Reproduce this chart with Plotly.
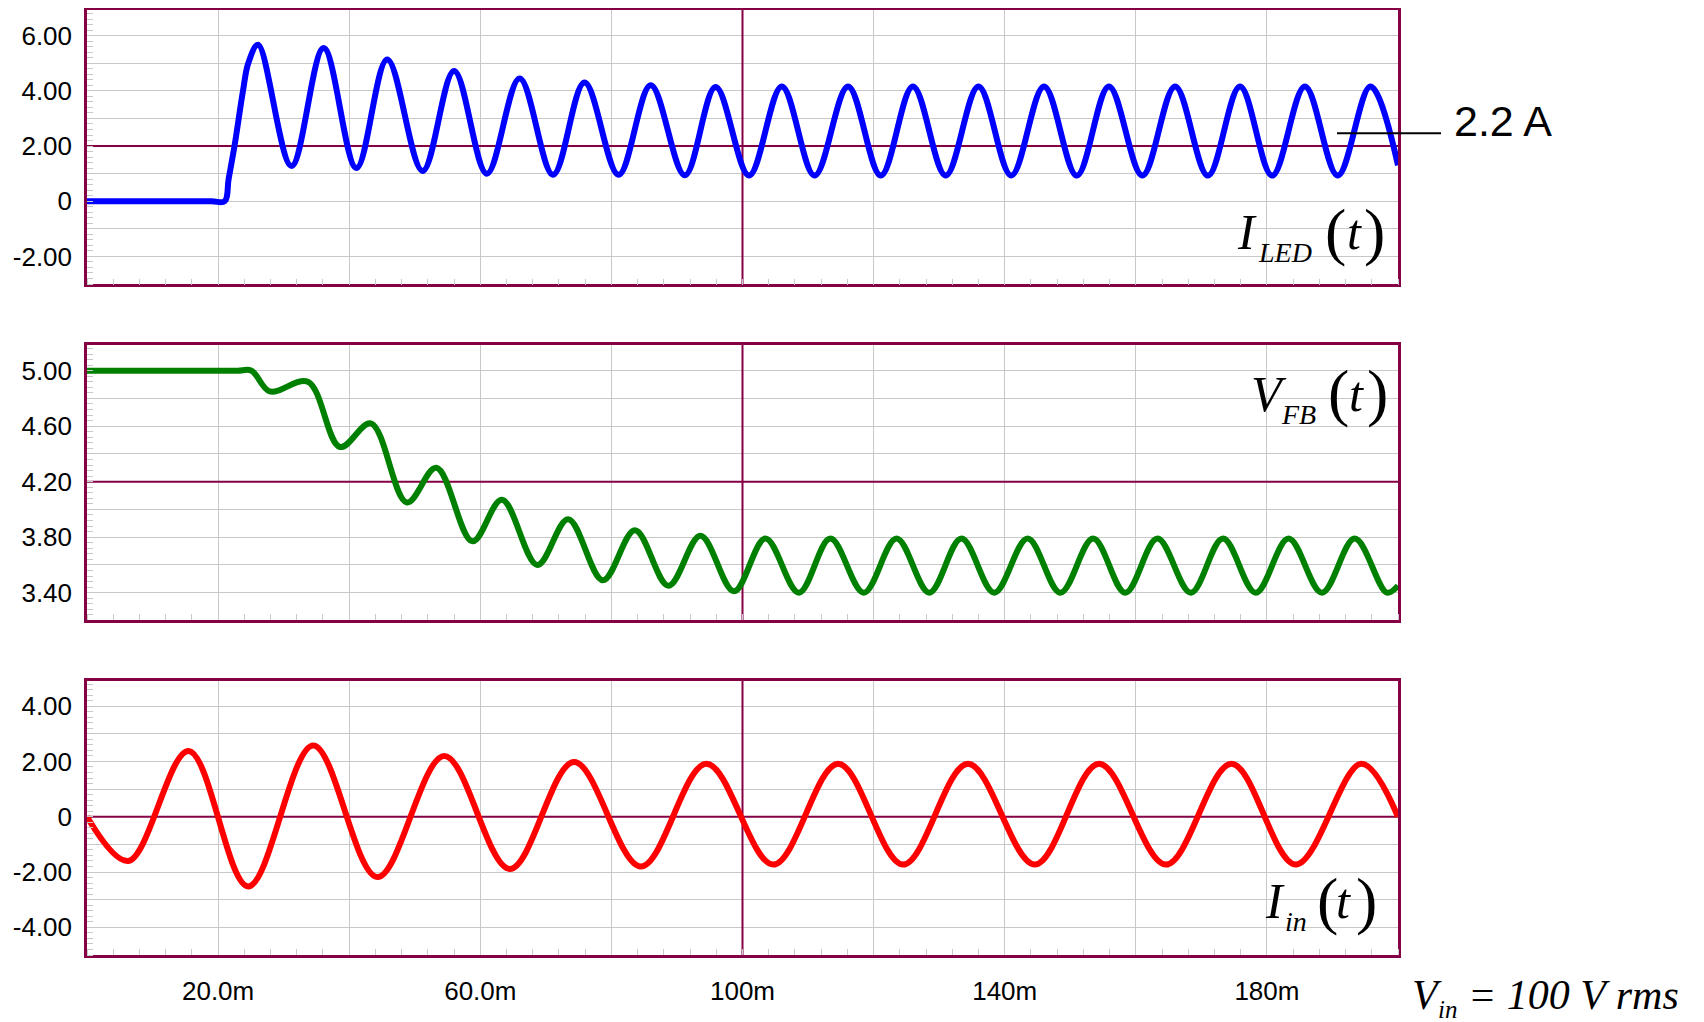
import plotly.graph_objects as go

# ---------------- data (time in ms) ----------------
led_t = [0, 10.0, 19.0, 21.0, 21.6, 22.5, 23.8, 24.6, 26.1, 31.2, 36.1, 41.1, 45.8, 51.2, 56.0,
         61.0, 66.0, 71.1, 75.9, 81.1, 86.0, 91.2, 95.9, 101.0, 106.0, 111.0, 116.1,
         121.1, 126.0, 131.0, 136.0, 141.0, 146.0, 151.0, 155.9, 161.0, 166.0, 171.0,
         175.9, 180.8, 185.8, 190.8, 195.8, 200.0]
led_v = [0, 0, 0, 0, 0.8, 2.0, 4.0, 5.0, 5.67, 1.28, 5.55, 1.20, 5.14, 1.10, 4.72,
         1.00, 4.45, 0.96, 4.30, 0.96, 4.20, 0.94, 4.14, 0.93, 4.16, 0.93, 4.16,
         0.93, 4.16, 0.93, 4.16, 0.93, 4.16, 0.93, 4.16, 0.93, 4.16, 0.93,
         4.16, 0.93, 4.16, 0.93, 4.16, 1.30]

fb_t = [0, 10.0, 20.0, 23.0, 25.1, 27.9, 33.7, 38.6, 43.3, 48.8, 53.3, 58.8, 63.3, 68.7, 73.4, 78.7,
        83.6, 88.7, 93.6, 98.7, 103.5, 108.6, 113.4, 118.5, 123.5, 128.5, 133.4,
        138.4, 143.5, 148.5, 153.5, 158.4, 163.3, 168.4, 173.3, 178.3, 183.3, 188.4,
        193.4, 198.3, 200.0]
fb_v = [5.00, 5.00, 5.00, 5.00, 5.00, 4.85, 4.92, 4.45, 4.62, 4.05, 4.30, 3.77, 4.07, 3.60, 3.93, 3.49,
        3.85, 3.45, 3.81, 3.41, 3.79, 3.40, 3.79, 3.40, 3.79, 3.40, 3.79,
        3.40, 3.79, 3.40, 3.79, 3.40, 3.79, 3.40, 3.79, 3.40, 3.79, 3.40,
        3.79, 3.40, 3.45]

in_t = [0, 6.3, 15.5, 24.6, 34.5, 44.3, 54.5, 64.5, 74.3, 84.5, 94.5, 104.7, 114.6,
        124.5, 134.4, 144.6, 154.4, 164.6, 174.6, 184.4, 194.4, 200.0]
in_v = [0, -1.60, 2.38, -2.52, 2.58, -2.18, 2.20, -1.89, 1.98, -1.80, 1.92, -1.73, 1.92,
        -1.73, 1.92, -1.73, 1.92, -1.73, 1.92, -1.73, 1.92, 0.0]

# ---------------- ticks ----------------
x_grid = [20, 40, 60, 80, 100, 120, 140, 160, 180]
x_text = ["20.0m", "", "60.0m", "", "100m", "", "140m", "", "180m"]

y1_grid = [-3, -2, -1, 0, 1, 2, 3, 4, 5, 6, 7]
y1_text = ["", "-2.00", "", "0", "", "2.00", "", "4.00", "", "6.00", ""]
y2_grid = [3.2, 3.4, 3.6, 3.8, 4.0, 4.2, 4.4, 4.6, 4.8, 5.0, 5.2]
y2_text = ["", "3.40", "", "3.80", "", "4.20", "", "4.60", "", "5.00", ""]
y3_grid = [-5, -4, -3, -2, -1, 0, 1, 2, 3, 4, 5]
y3_text = ["", "-4.00", "", "-2.00", "", "0", "", "2.00", "", "4.00", ""]

X_RANGE = [0, 200]
Y1_RANGE = [-3.01, 6.93]
Y2_RANGE = [3.203, 5.185]
Y3_RANGE = [-5.0, 4.92]
CENTER_X = 100
CENTER_Y = [2.0, 4.2, 0.0]

MAROON = "#850045"
GRID = "#c8c8c8"
SANS = "Liberation Sans, Arial, sans-serif"
SERIF = "Liberation Serif, Times New Roman, serif"

W, H = 1704, 1022
L, R, T, B = 79, 314, 2, 75
PW, PH = W - L - R, H - T - B
OFF = 8  # page offset of the figure (body margin)


def px(X):
    return (X - OFF - L) / PW


def py(Y):
    return (H - B - (Y - OFF)) / PH


fig = go.Figure()
fig.add_trace(go.Scatter(x=led_t, y=led_v, xaxis="x", yaxis="y", mode="lines",
                         line=dict(color="#0000ff", width=6, shape="spline", smoothing=1.0)))
fig.add_trace(go.Scatter(x=fb_t, y=fb_v, xaxis="x2", yaxis="y2", mode="lines",
                         line=dict(color="#008000", width=6, shape="spline", smoothing=1.0)))
fig.add_trace(go.Scatter(x=in_t, y=in_v, xaxis="x3", yaxis="y3", mode="lines",
                         line=dict(color="#ff0000", width=6, shape="spline", smoothing=1.0)))


def xaxis(anchor, labels):
    return dict(domain=[0, 1], anchor=anchor, range=X_RANGE, tickmode="array",
                tickvals=x_grid, ticktext=x_text if labels else [""] * len(x_grid),
                showticklabels=labels, showgrid=True, gridcolor=GRID, gridwidth=1.2,
                zeroline=False, showline=True, linecolor=MAROON, linewidth=2.5, mirror=True,
                ticks="", ticklabelstandoff=11,
                minor=dict(tick0=0, dtick=4, ticks="inside", ticklen=6, tickwidth=1,
                           tickcolor=GRID, showgrid=False),
                tickfont=dict(family=SANS, size=26, color="black"))


def yaxis(domain, anchor, rng, vals, text, mdt):
    return dict(domain=domain, anchor=anchor, range=rng, tickmode="array",
                tickvals=vals, ticktext=text, showgrid=True, gridcolor=GRID, gridwidth=1.2,
                zeroline=False, showline=True, linecolor=MAROON, linewidth=2.5, mirror=True,
                ticks="", ticklabelstandoff=7,
                minor=dict(tick0=0, dtick=mdt, ticks="inside", ticklen=6, tickwidth=1,
                           tickcolor=GRID, showgrid=False),
                tickfont=dict(family=SANS, size=26, color="black"))


d1 = [py(284.3), min(1.0, py(10.0))]
d2 = [py(620.0), py(345.0)]
d3 = [max(0.0, py(955.0)), py(680.7)]

shapes = []
for sfx, c, rng in zip(["", "2", "3"], CENTER_Y, [Y1_RANGE, Y2_RANGE, Y3_RANGE]):
    shapes.append(dict(type="line", xref=f"x{sfx}", x0=X_RANGE[0], x1=X_RANGE[1], yref=f"y{sfx}",
                       y0=c, y1=c, line=dict(color=MAROON, width=2), layer="between"))
    shapes.append(dict(type="line", xref=f"x{sfx}", x0=CENTER_X, x1=CENTER_X, yref=f"y{sfx}",
                       y0=rng[0], y1=rng[1], line=dict(color=MAROON, width=2), layer="between"))
# pointer for 2.2 A
shapes.append(dict(type="line", xref="paper", yref="paper", x0=px(1337), x1=px(1441),
                   y0=py(133.3), y1=py(133.3), line=dict(color="black", width=2), layer="above"))

annotations = []


def piece(text, X, base, size, italic=True, family=SERIF, desc=0.216):
    t = f"<i>{text}</i>" if italic else text
    annotations.append(dict(text=t, xref="paper", yref="paper", x=px(X),
                            y=py(base + desc * size + 1), xanchor="left", yanchor="bottom",
                            showarrow=False, font=dict(family=family, size=size, color="black")))


# I_LED(t)
piece("I", 1235, 250, 50)
piece("LED", 1256, 263, 28)
piece("(", 1323, 254.5, 64, italic=False)
piece("t", 1345, 250, 50)
piece(")", 1362, 254.5, 64, italic=False)
# V_FB(t)
piece("V", 1249, 411.7, 50)
piece("FB", 1279, 425, 28)
piece("(", 1326, 415.5, 64, italic=False)
piece("t", 1347, 411.7, 50)
piece(")", 1365, 415.5, 64, italic=False)
# I_in(t)
piece("I", 1263, 919.3, 50)
piece("in", 1283, 931.7, 28)
piece("(", 1315, 923.3, 64, italic=False)
piece("t", 1334, 919.3, 50)
piece(")", 1354, 923.3, 64, italic=False)
# V_in = 100 V rms
piece("V", 1410, 1010, 42)
piece("in", 1436, 1019, 25)
piece("= 100 V rms", 1466, 1010, 42)
# 2.2 A
piece("2.2 A", 1452, 137, 43, italic=False, family=SANS, desc=0.212)

fig.update_layout(
    width=W, height=H, margin=dict(l=L, r=R, t=T, b=B, autoexpand=False),
    paper_bgcolor="white", plot_bgcolor="white", showlegend=False,
    xaxis=xaxis("y", False), xaxis2=xaxis("y2", False), xaxis3=xaxis("y3", True),
    yaxis=yaxis(d1, "x", Y1_RANGE, y1_grid, y1_text, 0.2),
    yaxis2=yaxis(d2, "x2", Y2_RANGE, y2_grid, y2_text, 0.04),
    yaxis3=yaxis(d3, "x3", Y3_RANGE, y3_grid, y3_text, 0.2),
    shapes=shapes, annotations=annotations,
)

fig.write_html("out.html")
